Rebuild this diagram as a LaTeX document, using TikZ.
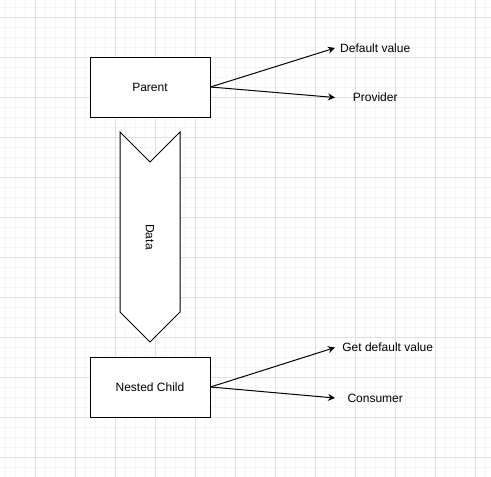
\documentclass[tikz,border=0pt]{standalone}
\usepackage{fontspec}
\setmainfont{Liberation Sans}
\usetikzlibrary{arrows.meta}

\tikzset{
  box/.style={draw, fill=white, line width=1pt, minimum width=120pt, minimum height=60pt, font=\fontsize{12}{14}\selectfont},
  lbl/.style={inner sep=0pt, minimum width=80pt, minimum height=14pt, font=\fontsize{12}{14}\selectfont},
  link/.style={-{Stealth[length=7pt,width=7pt]}, line width=1pt},
  minorline/.style={draw=black!4, line width=1pt},
  majorline/.style={draw=black!12, line width=1pt}
}

\begin{document}
\begin{tikzpicture}[x=1pt,y=-1pt]
   \useasboundingbox (0,0) rectangle (491,477);
   % grid
   \foreach \x in {5,15,...,485} \draw[minorline] (\x,0) -- (\x,477);
   \foreach \y in {7,17,...,477} \draw[minorline] (0,\y) -- (491,\y);
   \foreach \x in {35,75,...,475} \draw[majorline] (\x,0) -- (\x,477);
   \foreach \y in {17,57,...,457} \draw[majorline] (0,\y) -- (491,\y);

   \draw (150,87) node[box] (parent) {Parent};
   \draw (150,387) node[box] (child) {Nested Child};

   \draw[line width=1pt, fill=white] (120,132) -- (150,162) -- (180,132) -- (180,312) -- (150,342) -- (120,312) -- cycle;
   \draw (150,237) node[rotate=-90, font=\fontsize{12}{14}\selectfont] (data) {Data};

   \draw (335,48) node[lbl, anchor=west] (dflt) {Default value};
   \draw (335,97.5) node[lbl, anchor=west] (prov) {Provider};
   \draw (335,347.5) node[lbl, anchor=west, minimum width=105pt] (getdflt) {Get default value};
   \draw (335,398) node[lbl, anchor=west] (cons) {Consumer};

     \path[link] (parent.east) edge (dflt.west);
     \path[link] (parent.east) edge (prov.west);
     \path[link] (child.east) edge (getdflt.west);
     \path[link] (child.east) edge (cons.west);
\end{tikzpicture}
\end{document}
